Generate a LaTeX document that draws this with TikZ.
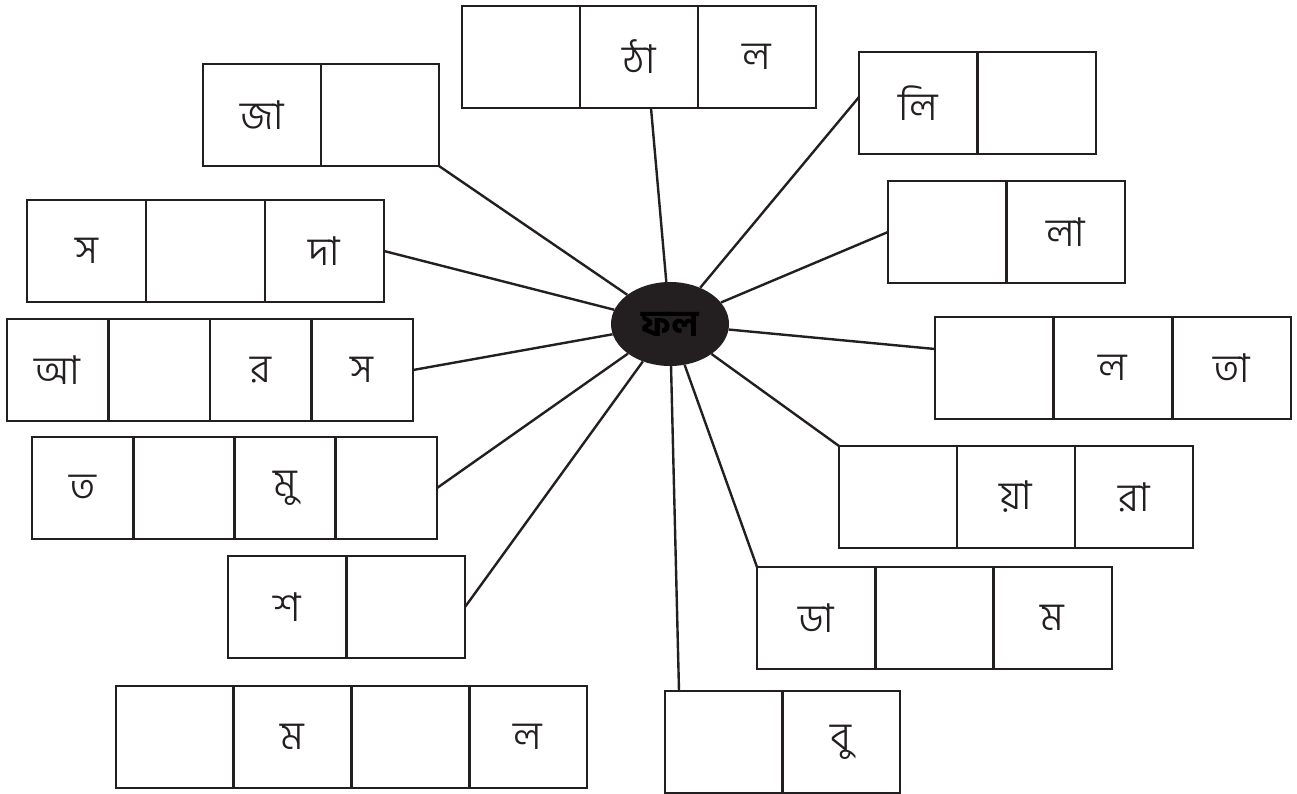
\documentclass[tikz,border=0pt]{standalone}
\usepackage{fontspec}
\newfontfamily\bn[Script=Bengali, UprightFont=* Light, BoldFont=* Bold]{Hind Siliguri}
\usetikzlibrary{shapes.geometric,positioning}
\definecolor{ink}{HTML}{231F20}

\begin{document}
\begin{tikzpicture}[
  x=1pt, y=-1pt,
  font=\bn\fontsize{40}{46}\selectfont,
  cell/.style={draw=ink, line width=2.6pt, outer sep=0pt, inner sep=0pt,
    minimum height=102pt, anchor=north west, text=ink},
  spoke/.style={draw=ink, line width=2.4pt}
]
\clip (0,0) rectangle (1297,793);

% Centre: the word in the dark ellipse
\node[ellipse, fill=ink, minimum width=118pt, minimum height=84pt,
  font=\bn\bfseries\fontsize{36}{40}\selectfont, text=black] (fol) at (670,324) {ফল};

% Left side rows
\foreach \t [count=\i] in {{},ঠা,ল}
  \node[cell, minimum width=118pt] (thal\i) at ({462+118*(\i-1)},6) {\t};
\foreach \t [count=\i] in {জা,{}}
  \node[cell, minimum width=118pt] (jam\i) at ({203+118*(\i-1)},64) {\t};
\foreach \t [count=\i] in {স,{},দা}
  \node[cell, minimum width=119pt] (sobeda\i) at ({27+119*(\i-1)},200) {\t};
\foreach \t [count=\i] in {আ,{},র,স}
  \node[cell, minimum width=101.5pt] (anaras\i) at ({7+101.5*(\i-1)},319) {\t};
\foreach \t [count=\i] in {ত,{},মু,{}}
  \node[cell, minimum width=101.25pt] (tormuj\i) at ({32+101.25*(\i-1)},437) {\t};
\foreach \t [count=\i] in {শ,{}}
  \node[cell, minimum width=118.5pt] (sosa\i) at ({228+118.5*(\i-1)},556) {\t};
\foreach \t [count=\i] in {{},ম,{},ল}
  \node[cell, minimum width=117.75pt] (mul\i) at ({116+117.75*(\i-1)},686) {\t};

% Right side rows
\foreach \t [count=\i] in {লি,{}}
  \node[cell, minimum width=118.5pt] (lichu\i) at ({859+118.5*(\i-1)},52) {\t};
\foreach \t [count=\i] in {{},লা}
  \node[cell, minimum width=118.5pt] (lau\i) at ({888+118.5*(\i-1)},181) {\t};
\foreach \t [count=\i] in {{},ল,তা}
  \node[cell, minimum width=118.7pt] (lata\i) at ({935+118.7*(\i-1)},317) {\t};
\foreach \t [count=\i] in {{},য়া,রা}
  \node[cell, minimum width=118pt] (peyara\i) at ({839+118*(\i-1)},446) {\t};
\foreach \t [count=\i] in {ডা,{},ম}
  \node[cell, minimum width=118.3pt] (dalim\i) at ({757+118.3*(\i-1)},567) {\t};
\foreach \t [count=\i] in {{},বু}
  \node[cell, minimum width=117.5pt] (kul\i) at ({665+117.5*(\i-1)},691) {\t};

% Spokes from the centre
\draw[spoke] (fol) -- ([xshift=12pt]thal2.south);
\draw[spoke] (fol) -- (jam2.south east);
\draw[spoke] (fol) -- (sobeda3.east);
\draw[spoke] (fol) -- (anaras4.east);
\draw[spoke] (fol) -- (tormuj4.east);
\draw[spoke] (fol) -- (sosa2.east);
\draw[spoke] (fol) -- ([yshift=6pt]lichu1.west);
\draw[spoke] (fol) -- (lau1.west);
\draw[spoke] (fol) -- ([yshift=19pt]lata1.west);
\draw[spoke] (fol) -- (peyara1.north west);
\draw[spoke] (fol) -- (dalim1.north west);
\draw[spoke] (fol) -- ([xshift=14pt]kul1.north west);
\end{tikzpicture}
\end{document}
